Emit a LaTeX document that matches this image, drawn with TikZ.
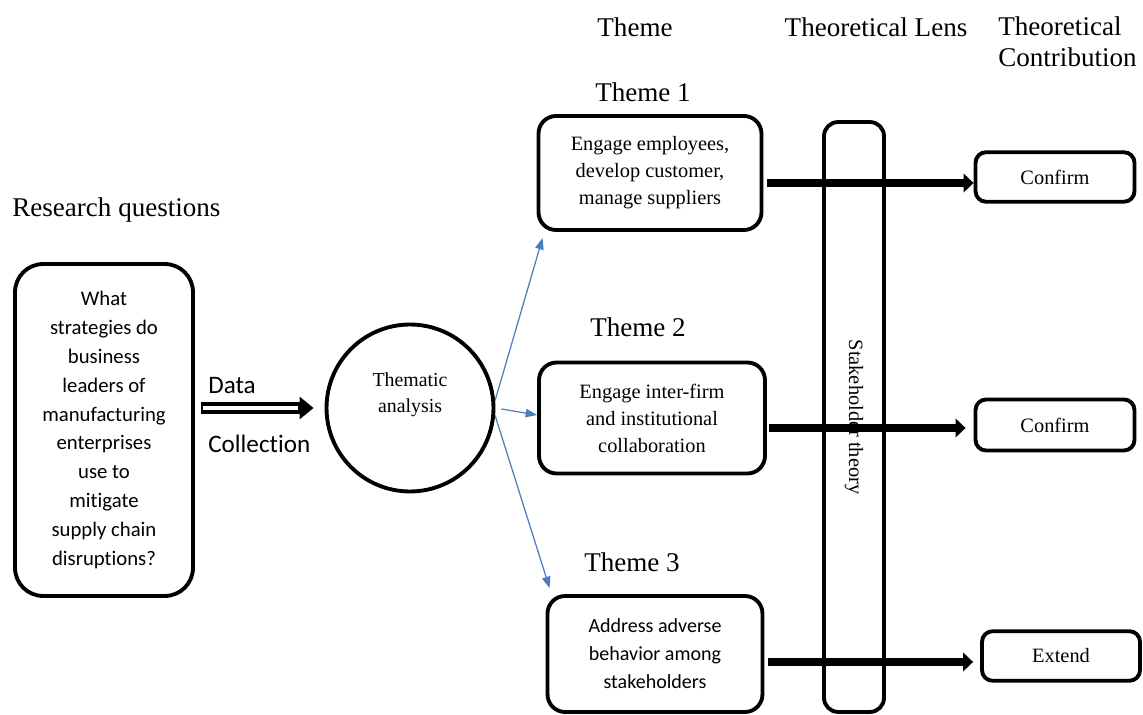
\documentclass[tikz,border=0pt]{standalone}
\usepackage{fontspec}
\setmainfont{Liberation Serif}
\newfontfamily\calibrifont[Ligatures=NoCommon]{Carlito}
\usepackage{tikz}
\usetikzlibrary{arrows.meta, positioning, calc}
\definecolor{lineblue}{HTML}{4A7EBB}

\begin{document}
\begin{tikzpicture}[x=0.02cm, y=-0.02cm,
  box/.style={draw, line width=2.2pt, rounded corners=10pt, align=center, inner sep=0pt},
  rq/.style={box, rounded corners=16pt, minimum width=3.56cm, minimum height=6.64cm,
    font=\calibrifont\fontsize{11.8}{16.4}\selectfont},
  thm/.style={box, font=\fontsize{11.6}{15.4}\selectfont},
  res/.style={box, rounded corners=6pt, minimum width=3.18cm, minimum height=0.99cm,
    font=\fontsize{11.6}{14}\selectfont},
  hdr/.style={font=\fontsize{15.4}{17.6}\selectfont, inner sep=0pt},
  circ/.style={circle, draw, line width=2.2pt, minimum size=3.34cm, inner sep=0pt},
  fat/.style={line width=4.5pt, -{Triangle[length=5.7pt, width=10.5pt]}},
  thin/.style={lineblue, line width=0.7pt, -{Triangle[length=6.5pt, width=4.8pt]}}
]
\useasboundingbox (0,0) rectangle (1143,715);

% column headings
\node[hdr, anchor=west] (rqh) at (12,210) {Research questions};
\node[hdr] (th) at (635,27) {Theme};
\node[hdr] (tl) at (876,27) {Theoretical Lens};
\node[hdr, anchor=north west, align=left] (tc) at (998,16) {Theoretical\\Contribution};

% research question and analysis
\node[rq] (q) at (104,430) {What\\strategies do\\business\\leaders of\\manufacturing\\enterprises\\use to\\mitigate\\supply chain\\disruptions?};
\node[circ] (ta) at (410,408) {};
\node[font=\fontsize{11.3}{14.8}\selectfont, align=center] (tat) at (410,395) {Thematic\\analysis};

\node[font=\calibrifont\fontsize{14.3}{17}\selectfont, anchor=west, inner sep=0pt] (dc1) at (208,386) {Data};
\node[font=\calibrifont\fontsize{14.3}{17}\selectfont, anchor=west, inner sep=0pt] (dc2) at (208,444) {Collection};

% themes
\node[hdr] (l1) at (643,92) {Theme 1};
\node[hdr] (l2) at (638,327) {Theme 2};
\node[hdr] (l3) at (632,562) {Theme 3};
\node[thm, minimum width=4.46cm, minimum height=2.28cm] (t1) at (650,173) {Engage employees,\\develop customer,\\manage suppliers};
\node[thm, minimum width=4.52cm, minimum height=2.22cm] (t2) at (652,418) {Engage inter-firm\\and institutional\\collaboration};
\node[thm, minimum width=4.3cm, minimum height=2.32cm, font=\calibrifont\fontsize{11.4}{15.9}\selectfont] (t3) at (655,654) {Address adverse\\behavior among\\stakeholders};

% lens
\node[box, rounded corners=8pt, rotate=-90, minimum width=11.8cm, minimum height=1.2cm,
  font=\fontsize{11.6}{14}\selectfont] (st) at (854,417) {Stakeholder theory};

% contributions
\node[res] (c1) at (1055,177) {Confirm};
\node[res, minimum height=1.02cm] (c2) at (1055,425) {Confirm};
\node[res, minimum width=3.16cm] (c3) at (1061,656) {Extend};

% connectors
\draw[line width=6.8pt, -{Triangle[length=8pt, width=12.5pt]}, shorten <=0.12cm, shorten >=0.22cm] (q.east |- ta) -- (ta.west);
\draw[white, line width=2.3pt, shorten <=0.17cm, shorten >=0.54cm] (q.east |- ta) -- (ta.west);

\draw[thin] (ta.5) -- ($(t1.south west)+(6,6)$);
\draw[thin, shorten <=0.12cm] (ta.east) -- ($(t2.west)+(0,-3)$);
\draw[thin] (ta.-5) -- ($(t3.north west)+(4,-6)$);

\draw[fat] ($(t1.east)+(4,10)$) -- ($(c1.west)+(0,6)$);
\draw[fat, shorten >=0.16cm] ($(t2.east)+(2,10)$) -- ($(c2.west)+(0,3)$);
\draw[fat, shorten >=0.14cm] ($(t3.east)+(4,8)$) -- ($(c3.west)+(0,6)$);
\end{tikzpicture}
\end{document}
